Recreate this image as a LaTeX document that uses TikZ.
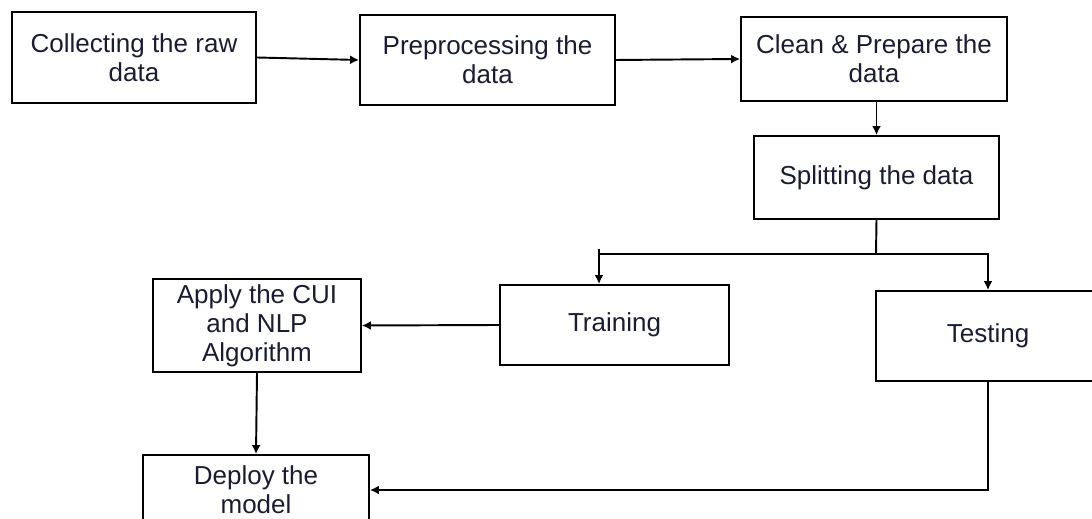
\documentclass[tikz,border=0pt]{standalone}
\usepackage{fontspec}
\setmainfont{Liberation Sans}
\usetikzlibrary{arrows.meta,calc}
\definecolor{labelnavy}{RGB}{28,28,48}
\tikzset{
  stage/.style={draw, line width=1.1pt, align=center, inner sep=0pt, text=labelnavy,
    font=\fontsize{14.8}{16.5}\selectfont},
  flow/.style={line width=1.1pt, -{Latex[length=1.8mm,width=1.8mm]}},
  wire/.style={line width=1.1pt}
}
\begin{document}
\begin{tikzpicture}[x=0.02cm, y=-0.02cm]
    \useasboundingbox (0,0) rectangle (1092,519);
    % Stages:
    \node[stage, minimum width=4.88cm, minimum height=1.82cm] (collect) at (134,57.5) {Collecting the raw\\data};
    \node[stage, minimum width=5.10cm, minimum height=1.80cm] (prep) at (487.5,60) {Preprocessing the\\data};
    \node[stage, minimum width=5.32cm, minimum height=1.68cm] (clean) at (874,59) {Clean \& Prepare the\\data};
    \node[stage, minimum width=4.90cm, minimum height=1.66cm] (split) at (876.5,177.5) {Splitting the data};
    \node[stage, minimum width=4.58cm, minimum height=1.60cm] (train) at (614.5,325) {Training};
    \node[stage, minimum width=4.48cm, minimum height=1.80cm] (test) at (988,336) {Testing};
    \node[stage, minimum width=4.16cm, minimum height=1.86cm] (algo) at (257,325.5) {Apply the CUI\\and NLP\\Algorithm};
    \node[stage, minimum width=4.52cm, minimum height=1.40cm] (deploy) at (256,490) {Deploy the\\model};
    % Connectors:
    \coordinate (fork) at (876,254);
    \coordinate (forkL) at (599,254);
    \draw[flow] (collect.east) -- (prep.west);
    \draw[flow] (prep.east) -- (clean.west);
    \draw[flow] (split.north |- clean.south) -- (split.north);
    \draw[wire] (split.south) -- (fork) -- (forkL);
    \draw[flow] ($(forkL)+(0,-5)$) -- (forkL |- train.north);
    \draw[flow] (fork) -| (test.north);
    \draw[flow] (train.west) -- (algo.east);
    \draw[flow] (algo.south) -- (deploy.north);
    \draw[flow] (test.south) |- (deploy.east);
\end{tikzpicture}
\end{document}
